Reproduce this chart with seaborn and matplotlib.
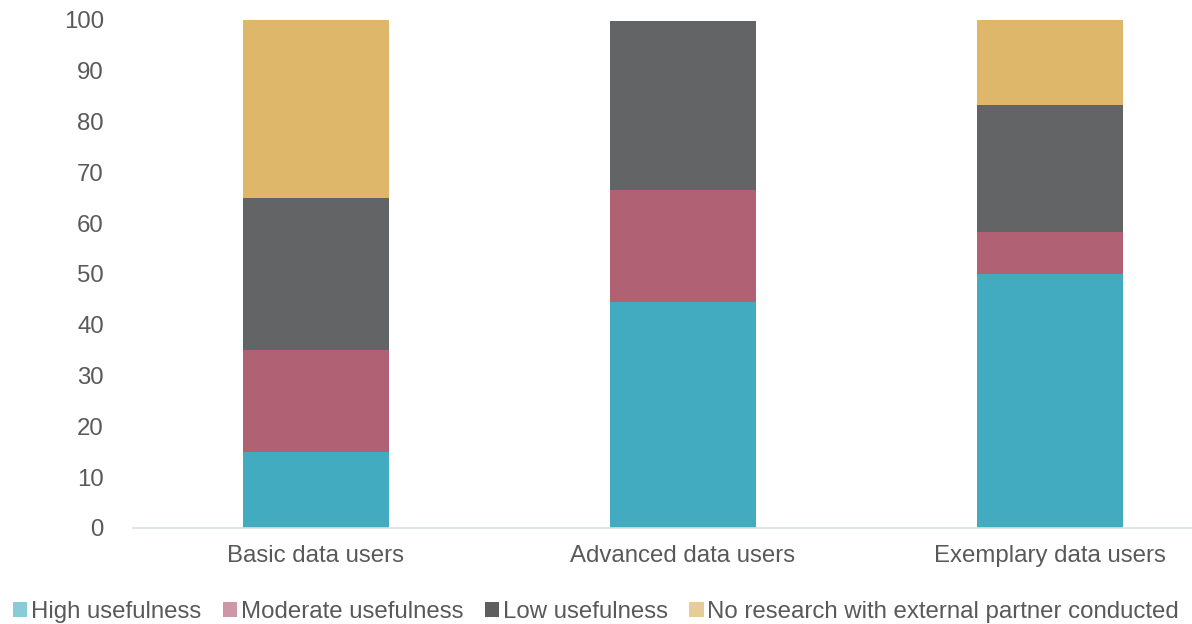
import matplotlib
matplotlib.use("Agg")
import matplotlib.pyplot as plt
import seaborn as sns
import pandas as pd
import numpy as np
from matplotlib.patches import Patch

categories = ["Basic data users", "Advanced data users", "Exemplary data users"]
series_names = ["High usefulness", "Moderate usefulness", "Low usefulness",
                "No research with external partner conducted"]
high = [15.0, 44.4, 50.0]
moderate = [20.0, 22.2, 8.3]
low = [30.0, 33.3, 25.0]
no_research = [35.0, 0.0, 16.7]
yticks = [0, 10, 20, 30, 40, 50, 60, 70, 80, 90, 100]

bar_colors = ["#42ABBF", "#B06174", "#636466", "#DFB76B"]
legend_colors = ["#8ACBD8", "#CE97A5", "#5F5F5F", "#E8CC97"]

sns.set_theme(style="white")
plt.rcParams['font.family'] = ['Liberation Sans', 'DejaVu Sans']

df = pd.DataFrame({"category": categories, series_names[0]: high,
                   series_names[1]: moderate, series_names[2]: low,
                   series_names[3]: no_research})

fig = plt.figure(figsize=(11.92, 6.24), dpi=100)
ax = fig.add_axes([133/1192, 96/624, (1192-133)/1192, 508/624])

bottom = np.zeros(len(categories))
for name, col in zip(series_names, bar_colors):
    vals = df[name].to_numpy()
    sns.barplot(x=df["category"], y=vals + bottom, color=col, ax=ax,
                width=0.4, saturation=1)
    bottom = bottom + vals

# barplot draws cumulative heights; later (taller) layers go underneath
n = len(categories)
for i, p in enumerate(ax.patches):
    layer = i // n
    p.set_zorder(10 - layer)
    p.set_linewidth(0)

FS = 17.3
ax.set_xlim(-0.4986, (1192 - 316) / 367)
ax.set_ylim(0, 100)
ax.set_yticks(yticks)
ax.set_xlabel("")
ax.set_ylabel("")
ax.tick_params(axis='both', colors="#595959", labelsize=FS, length=0)
ax.tick_params(axis='y', pad=21)
ax.tick_params(axis='x', pad=12)
for s in ["top", "right", "left"]:
    ax.spines[s].set_visible(False)
ax.spines["bottom"].set_color("#D9DEE8")
ax.spines["bottom"].set_linewidth(1.2)
ax.spines["bottom"].set_zorder(20)

handles = [Patch(facecolor=c, edgecolor='none') for c in legend_colors]
leg = fig.legend(handles, series_names, loc="center", bbox_to_anchor=(0.5, 12/624),
                 ncol=4, frameon=False, fontsize=FS, handlelength=0.6, handleheight=0.6,
                 handletextpad=0.15, columnspacing=0.9, borderaxespad=0, borderpad=0)
for t in leg.get_texts():
    t.set_color("#595959")

fig.savefig("out.png", dpi=100)
